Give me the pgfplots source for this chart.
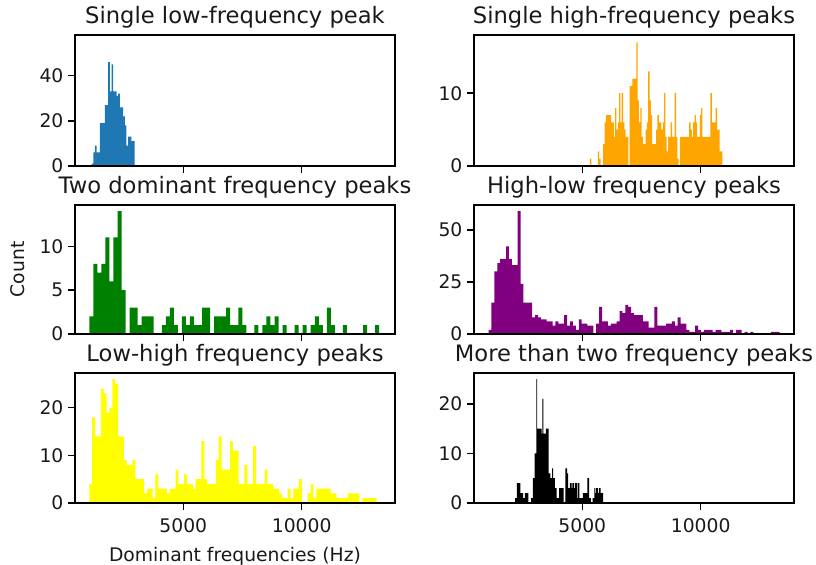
\documentclass[border=0pt]{standalone}
\usepackage{fontspec}
\setmainfont{DejaVu Sans}
\usepackage{pgfplots}
\pgfplotsset{compat=1.18}

\definecolor{c0}{HTML}{1F77B4}
\definecolor{corange}{HTML}{FFA500}
\definecolor{cgreen}{HTML}{008000}
\definecolor{cpurple}{HTML}{800080}
\definecolor{cyellow}{HTML}{FFFF00}

\pgfplotsset{
  every axis title/.style={at={(0.5,1)}, anchor=base, yshift=8.4pt,
    font=\fontsize{16.3}{19}\selectfont, text=black!90},
  panel/.style={
    scale only axis, width=230.4pt,
    xmin=427, xmax=13940, ymin=0,
    xtick={5000,10000},
    scaled x ticks=false, scaled y ticks=false,
    /pgf/number format/assume math mode=true,
    /pgf/number format/set thousands separator={},
    tick align=outside, xtick pos=left, ytick pos=left,
    major tick length=4.8pt,
    tick style={black, line width=1.05pt},
    axis line style={line width=1.05pt},
    axis on top,
    ticklabel style={font=\fontsize{13.5}{16}\selectfont, text=black!90},
    xticklabel style={yshift=-3pt},
    label style={font=\fontsize{13.5}{16}\selectfont, text=black!90},
    xlabel style={yshift=-3.5pt},
    ylabel style={yshift=3.5pt},
  },
  nolabels/.style={xticklabels={}},
  hist/.style={const plot mark left, draw=none, fill=#1},
}

\begin{document}
\begin{tikzpicture}
\path[use as bounding box] (0,0) rectangle (587.52pt,406.8pt);

% top left
\begin{axis}[panel, nolabels, at={(54pt,287.28pt)}, anchor=south west,
  height=94.32pt, ymax=58, ytick={0,20,40},
  title={Single low-frequency peak}]
\addplot[hist=c0] table[row sep=\\, x expr={1130+70*\coordindex}, y=c]
{c\\1\\6\\9\\6\\6\\19\\19\\19\\27\\27\\46\\33\\45\\33\\33\\31\\32\\26\\26\\22\\18\\9\\13\\13\\11\\11\\0\\} \closedcycle;
\end{axis}

% top right
\begin{axis}[panel, nolabels, at={(341.28pt,287.28pt)}, anchor=south west,
  height=94.32pt, ymax=18, ytick={0,10},
  title={Single high-frequency peaks}]
\addplot[hist=corange] table[row sep=\\, x expr={5324+55.9*\coordindex}, y=c]
{c\\1\\0\\0\\0\\0\\0\\2\\1\\0\\0\\
3\\6\\7\\7\\7\\7\\6\\6\\4\\8\\
5\\6\\10\\6\\10\\6\\5\\4\\4\\0\\
11\\11\\12\\12\\12\\17\\9\\6\\8\\4\\
3\\3\\5\\6\\13\\9\\7\\3\\3\\3\\
5\\7\\6\\6\\5\\6\\10\\4\\2\\4\\
4\\6\\4\\4\\10\\4\\1\\0\\4\\4\\
4\\4\\4\\4\\4\\6\\5\\4\\6\\7\\
6\\4\\4\\7\\8\\4\\4\\4\\4\\4\\
4\\10\\6\\6\\6\\8\\5\\5\\2\\2\\0\\} \closedcycle;
\end{axis}

% middle left
\begin{axis}[panel, nolabels, at={(54pt,166.32pt)}, anchor=south west,
  height=92.88pt, ymax=14.7, ytick={0,5,10},
  title={Two dominant frequency peaks}, ylabel={Count}]
\addplot[hist=cgreen] table[row sep=\\, x expr={1032+170*\coordindex}, y=c]
{c\\2\\8\\7\\8\\11\\6\\11\\14\\5\\0\\
3\\3\\1\\2\\2\\2\\0\\0\\1\\2\\
3\\1\\0\\2\\1\\2\\1\\1\\3\\3\\
0\\2\\2\\2\\3\\1\\1\\3\\1\\0\\
0\\1\\0\\1\\2\\1\\2\\0\\1\\0\\
0\\1\\0\\1\\0\\1\\2\\1\\0\\3\\
1\\0\\0\\1\\0\\0\\0\\0\\1\\0\\0\\1\\0\\} \closedcycle;
\end{axis}

% middle right
\begin{axis}[panel, nolabels, at={(341.28pt,166.32pt)}, anchor=south west,
  height=92.88pt, ymax=61.9, ytick={0,25,50},
  title={High-low frequency peaks}]
\addplot[hist=cpurple] table[row sep=\\, x expr={1041+122.9*\coordindex}, y=c]
{c\\2\\15\\30\\34\\36\\36\\42\\36\\33\\33\\
59\\24\\15\\15\\15\\8\\9\\8\\7\\7\\
6\\6\\4\\6\\5\\5\\9\\4\\6\\4\\
2\\7\\5\\5\\4\\4\\0\\5\\13\\6\\
6\\4\\5\\5\\6\\11\\10\\14\\13\\10\\
9\\9\\9\\6\\6\\3\\3\\13\\4\\4\\
4\\5\\5\\6\\4\\8\\5\\5\\2\\1\\
1\\4\\2\\1\\2\\2\\2\\1\\2\\2\\
1\\1\\1\\2\\0\\2\\2\\0\\1\\0\\
1\\0\\0\\0\\0\\0\\0\\1\\1\\1\\0\\} \closedcycle;
\end{axis}

% bottom left
\begin{axis}[panel, at={(54pt,44.64pt)}, anchor=south west,
  height=93.6pt, ymax=27.3, ytick={0,10,20},
  title={Low-high frequency peaks}, xlabel={Dominant frequencies (Hz)}]
\addplot[hist=cyellow] table[row sep=\\, x expr={1032+121.34*\coordindex}, y=c]
{c\\4\\18\\14\\14\\24\\23\\19\\20\\26\\25\\
14\\14\\9\\8\\8\\9\\5\\5\\5\\2\\
3\\3\\1\\6\\3\\3\\3\\2\\3\\3\\
7\\4\\4\\6\\4\\4\\3\\5\\5\\13\\
5\\4\\4\\4\\9\\14\\7\\7\\7\\13\\
11\\11\\4\\4\\8\\4\\4\\12\\4\\4\\
4\\7\\4\\4\\3\\3\\2\\1\\1\\3\\
1\\3\\3\\5\\0\\0\\2\\4\\1\\3\\
3\\3\\3\\3\\2\\2\\1\\1\\1\\1\\
2\\2\\2\\2\\0\\1\\1\\1\\1\\1\\0\\} \closedcycle;
\end{axis}

% bottom right
\begin{axis}[panel, at={(341.28pt,44.64pt)}, anchor=south west,
  height=93.6pt, ymax=26.25, ytick={0,10,20},
  title={More than two frequency peaks}]
\addplot[hist=black] table[row sep=\\, x expr={2165+37.19*\coordindex}, y=c]
{c\\1\\1\\4\\4\\4\\4\\2\\2\\2\\1\\
1\\2\\2\\2\\2\\0\\0\\0\\1\\1\\
5\\5\\10\\10\\25\\15\\15\\15\\15\\15\\
14\\21\\14\\14\\14\\15\\15\\15\\6\\6\\
5\\5\\7\\5\\5\\3\\3\\1\\1\\1\\
3\\3\\3\\3\\3\\0\\0\\7\\7\\6\\
3\\3\\4\\4\\3\\4\\4\\3\\4\\4\\
1\\4\\4\\1\\1\\1\\1\\2\\2\\2\\
2\\2\\5\\5\\1\\1\\0\\0\\1\\1\\
3\\2\\3\\3\\2\\3\\3\\2\\2\\2\\0\\} \closedcycle;
\end{axis}
\end{tikzpicture}
\end{document}
